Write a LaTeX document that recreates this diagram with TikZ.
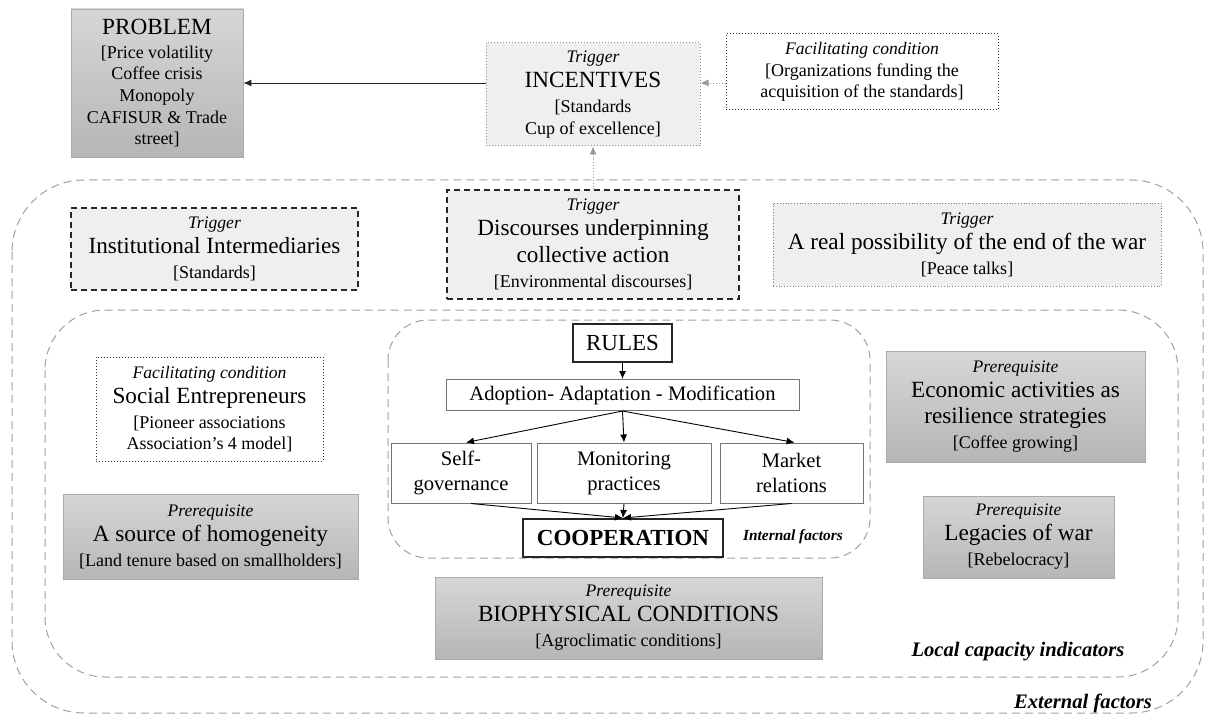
\documentclass[tikz,border=0pt]{standalone}
\usepackage{fontspec}
\setmainfont{Liberation Serif}
\usetikzlibrary{
  arrows.meta,
  positioning,
  shapes,
}
\definecolor{trigfill}{RGB}{239,239,239}
\definecolor{prereqtop}{RGB}{214,214,214}
\definecolor{prereqbot}{RGB}{182,182,182}
\definecolor{edgegray}{RGB}{170,170,170}
\definecolor{dashgray}{RGB}{160,160,160}

\tikzstyle{box} = [rectangle, align=center, inner sep=0pt, font=\fontsize{9}{12.5}\selectfont]
\tikzstyle{prereq} = [box, draw=edgegray, line width=0.4pt, top color=prereqtop, bottom color=prereqbot]
\tikzstyle{trig} = [box, fill=trigfill]
\tikzstyle{facil} = [box, draw=black!80, densely dotted, line width=0.5pt, fill=white]
\tikzstyle{flow} = [box, draw=black!55, line width=0.5pt, fill=white, font=\fontsize{10.3}{12.5}\selectfont]
\tikzstyle{core} = [box, draw=black!85, line width=1pt, fill=white]
\tikzstyle{area} = [draw=dashgray, line width=0.5pt, dash pattern=on 4pt off 2.5pt]
\tikzstyle{arrow} = [-{Latex[length=4pt,width=3.5pt]}, line width=0.45pt]
\tikzstyle{tag} = [font=\fontsize{10.3}{12}\selectfont\bfseries\itshape]

\newcommand{\boxkind}[1]{{\fontsize{8.8}{10}\selectfont\itshape #1}}
\newcommand{\boxhead}[1]{{\fontsize{11.6}{13}\selectfont #1}}

\begin{document}
\begin{tikzpicture}[x=0.5pt,y=-0.5pt]
\useasboundingbox (0,0) rectangle (1206,717);

% dashed areas
\draw[area, rounded corners=36pt] (12,180) rectangle (1203,713);
\draw[area, rounded corners=30pt] (45,310) rectangle (1178,677);
\draw[area, rounded corners=20pt] (388,320) rectangle (870,558);

% top row
\node[prereq, minimum width=86pt, minimum height=74pt] (problem) at (157,83)
  {\boxhead{PROBLEM}\\[-0.5pt][Price volatility\\[-1.7pt]Coffee crisis\\[-1.7pt]Monopoly\\[-1.7pt]CAFISUR \& Trade\\[-1.7pt]street]};
\node[trig, draw=black!45, densely dotted, line width=0.5pt, minimum width=107pt, minimum height=51.5pt] (incentives) at (593,94.5)
  {\boxkind{Trigger}\\\boxhead{INCENTIVES}\\{}[Standards\\[-1.7pt]Cup of excellence]};
\node[facil, minimum width=136pt, minimum height=38pt] (orgfund) at (862,72)
  {\boxkind{Facilitating condition}\\[-1.7pt]{}[Organizations funding the\\[-1.7pt]acquisition of the standards]};

% triggers
\node[trig, draw=black!85, densely dashed, line width=0.6pt, minimum width=143.5pt, minimum height=41pt] (instint) at (214.5,249)
  {\boxkind{Trigger}\\\boxhead{Institutional Intermediaries}\\{}[Standards]};
\node[trig, draw=black!85, densely dashed, line width=0.6pt, minimum width=146pt, minimum height=54.5pt] (discourses) at (593,244.5)
  {\boxkind{Trigger}\\\boxhead{Discourses underpinning}\\[0.8pt]\boxhead{collective action}\\{}[Environmental discourses]};
\node[trig, draw=black!50, densely dotted, line width=0.4pt, minimum width=194pt, minimum height=41.5pt] (peace) at (967,244.5)
  {\boxkind{Trigger}\\\boxhead{A real possibility of the end of the war}\\{}[Peace talks]};

% local capacity
\node[facil, minimum width=113.5pt, minimum height=52pt] (socent) at (209.5,409)
  {\boxkind{Facilitating condition}\\\boxhead{Social Entrepreneurs}\\{}[Pioneer associations\\[-1.7pt]Association’s 4 model]};
\node[prereq, minimum width=147.5pt, minimum height=42.5pt] (homog) at (210.5,536.5)
  {\boxkind{Prerequisite}\\\boxhead{A source of homogeneity}\\{}[Land tenure based on smallholders]};
\node[prereq, minimum width=129.5pt, minimum height=55.5pt] (econ) at (1015.5,406.5)
  {\boxkind{Prerequisite}\\\boxhead{Economic activities as}\\[0.8pt]\boxhead{resilience strategies}\\{}[Coffee growing]};
\node[prereq, minimum width=95.5pt, minimum height=41pt] (legacies) at (1018.5,537)
  {\boxkind{Prerequisite}\\\boxhead{Legacies of war}\\{}[Rebelocracy]};
\node[prereq, minimum width=193.5pt, minimum height=41pt] (biophys) at (628.5,618)
  {\boxkind{Prerequisite}\\\boxhead{BIOPHYSICAL CONDITIONS}\\{}[Agroclimatic conditions]};

% internal factors
\node[core, minimum width=49.5pt, minimum height=19pt, font=\fontsize{11.5}{13}\selectfont] (rules) at (622.5,343) {RULES};
\node[flow, minimum width=176.5pt, minimum height=15.5pt, below=8pt of rules] (adopt) {Adoption- Adaptation - Modification};
\node[flow, minimum width=87pt, minimum height=30pt] (monit) at (624,473) {Monitoring\\practices};
\node[flow, minimum width=70pt, minimum height=30pt, left=2.5pt of monit] (selfgov) {Self-\\governance};
\node[flow, minimum width=71.5pt, minimum height=30pt, right=4pt of monit] (market) {Market\\relations};
\node[core, minimum width=100pt, minimum height=19pt, font=\fontsize{11.5}{13}\selectfont\bfseries] (coop) at (623,538) {COOPERATION};

% area labels
\node[tag, font=\fontsize{7.7}{9}\selectfont\bfseries\itshape] (internal) at (793,537) {Internal factors};
\node[tag] (local) at (1018,652) {Local capacity indicators};
\node[tag] (external) at (1083,703) {External factors};

% connectors
\draw[arrow, black!85] (incentives.west |- problem.east) -- (problem.east);
\draw[arrow, black!40, densely dotted] (orgfund.west |- problem.east) -- (incentives.east |- problem.east);
\draw[arrow, black!40, densely dotted] (discourses.north) -- (incentives.south);
\draw[arrow] (rules.south) -- (adopt.north);
\draw[arrow] (adopt.south) -- ([xshift=2.5pt]selfgov.north);
\draw[arrow] (adopt.south) -- (monit.north);
\draw[arrow] (adopt.south) -- ([xshift=1.5pt]market.north);
\draw[arrow] ([xshift=5pt]selfgov.south) -- (coop.north);
\draw[arrow] (monit.south) -- (coop.north);
\draw[arrow] (market.south) -- (coop.north);
\end{tikzpicture}
\end{document}
